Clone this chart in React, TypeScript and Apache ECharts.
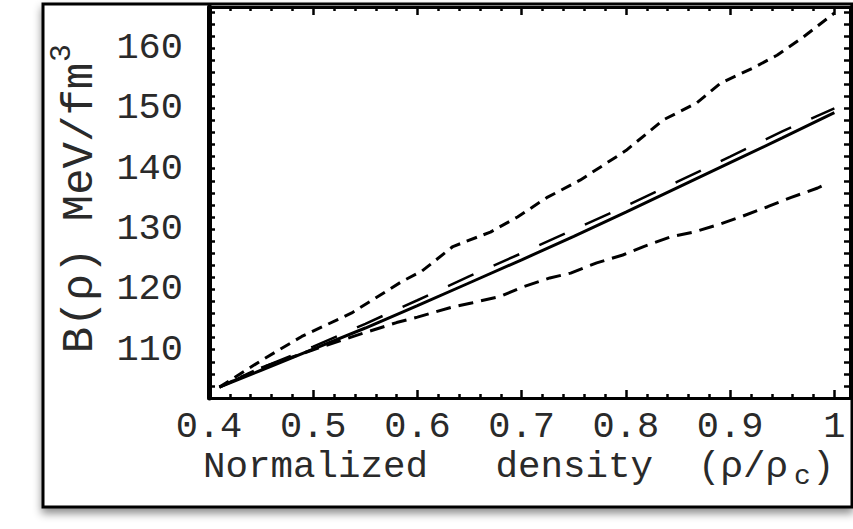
import React, { useEffect, useRef } from "react";
import * as echarts from "echarts";

// Axis ranges / ticks
const xRange = [0.4, 1.015];
const xMajorStep = 0.1;
const yRange = [102, 166.8];
const yTickStep = 2;
const yLabelStep = 10;

// Solid and long-dashed curves share the same density grid
const densityGrid = [0.41, 0.45, 0.5, 0.55, 0.6, 0.65, 0.7, 0.75, 0.8, 0.85, 0.9, 0.95, 1.0];
const solidB = [103.8, 106.6, 110.1, 113.6, 117.3, 121.1, 124.9, 128.8, 132.8, 136.9, 141.0, 145.1, 149.3];
const longDashB = [103.8, 107.0, 110.5, 114.3, 118.2, 122.2, 126.0, 129.9, 133.8, 137.9, 142.0, 146.2, 150.0];

// Upper short-dashed curve
const upperX = [0.41, 0.45, 0.489, 0.537, 0.585, 0.604, 0.634, 0.67, 0.696, 0.724, 0.756, 0.8, 0.836, 0.868, 0.891, 0.922, 0.945, 0.97, 1.0];
const upperB = [103.8, 108.2, 112.2, 116.1, 121.3, 123.0, 127.1, 129.5, 132.0, 135.2, 138.1, 143.0, 148.1, 150.9, 154.2, 156.7, 158.8, 161.8, 165.8];

// Lower dashed curve
const lowerX = [0.41, 0.45, 0.5, 0.54, 0.58, 0.6, 0.634, 0.653, 0.679, 0.701, 0.727, 0.747, 0.772, 0.797, 0.817, 0.843, 0.865, 0.888, 0.91, 0.936, 0.958, 0.984, 0.99];
const lowerB = [103.8, 107.0, 110.0, 112.3, 114.5, 115.4, 117.1, 117.8, 118.8, 120.4, 121.9, 122.7, 124.4, 125.7, 127.1, 128.7, 129.5, 130.7, 132.0, 133.7, 135.2, 136.8, 137.3];

const FONT = '"Liberation Mono", "Courier New", monospace';
const TEXT = "#2a2a2a";

const zip = (xs: number[], ys: number[]) => xs.map((x, i) => [x, ys[i]]);

export default function App() {
  const ref = useRef<HTMLDivElement>(null);

  useEffect(() => {
    if (!ref.current) return;
    const chart = echarts.init(ref.current, null, { renderer: "svg" });

    const xAxis = (position: string, label: boolean) => ({
      type: "value",
      position,
      min: xRange[0],
      max: xRange[1],
      interval: xMajorStep,
      axisLine: { show: true, onZero: false, lineStyle: { color: "#000", width: 3 } },
      axisTick: { show: true, inside: true, length: 8, lineStyle: { color: "#000", width: 2.5 } },
      minorTick: { show: true, splitNumber: 5, length: 4, lineStyle: { color: "#000", width: 2.5 } },
      axisLabel: label
        ? {
            show: true,
            margin: 10,
            color: TEXT,
            fontFamily: FONT,
            fontSize: 37,
            showMaxLabel: true,
            formatter: (v: number) => {
              const k = Math.round(v * 10);
              if (Math.abs(v * 10 - k) > 1e-6) return "";
              return k === 10 ? "1" : (k / 10).toFixed(1);
            },
          }
        : { show: false },
      splitLine: { show: false },
      minorSplitLine: { show: false },
    });

    const yAxis = (position: string, label: boolean, lw: number) => ({
      type: "value",
      position,
      min: yRange[0],
      max: yRange[1],
      interval: yTickStep,
      axisLine: { show: true, onZero: false, lineStyle: { color: "#000", width: lw } },
      axisTick: { show: true, inside: true, length: 6, lineStyle: { color: "#000", width: 2.5 } },
      axisLabel: label
        ? {
            show: true,
            margin: 26,
            color: TEXT,
            fontFamily: FONT,
            fontSize: 37,
            hideOverlap: false,
            formatter: (v: number) => {
              const r = Math.round(v);
              if (Math.abs(v - r) > 1e-6 || r % yLabelStep !== 0) return "";
              return String(r);
            },
          }
        : { show: false },
      splitLine: { show: false },
    });

    const lineSeries = (data: number[][], type: any, width: number) => ({
      type: "line",
      xAxisIndex: 0,
      yAxisIndex: 0,
      data,
      showSymbol: false,
      symbol: "none",
      lineStyle: { color: "#000", width, type },
      silent: true,
    });

    chart.setOption({
      animation: false,
      backgroundColor: "#fff",
      grid: { left: 209, right: 3, top: 7, bottom: 131, outerBoundsMode: "none", containLabel: false },
      xAxis: [xAxis("bottom", true), xAxis("top", false)],
      yAxis: [yAxis("left", true, 5), yAxis("right", false, 3)],
      graphic: [
        {
          type: "rect",
          z: -10,
          silent: true,
          shape: { x: 43, y: 4, width: 809, height: 503 },
          style: {
            fill: "#fff",
            stroke: "#000",
            lineWidth: 3,
            shadowBlur: 8,
            shadowColor: "rgba(0,0,0,0.45)",
            shadowOffsetY: 5,
          },
        },
        {
          type: "text",
          x: 80,
          y: 208,
          rotation: Math.PI / 2,
          silent: true,
          style: {
            text: "B(ρ) MeV/fm",
            fontFamily: FONT,
            fontSize: 44,
            fill: TEXT,
            align: "center",
            verticalAlign: "middle",
          },
        },
        {
          type: "text",
          x: 62,
          y: 53,
          rotation: Math.PI / 2,
          silent: true,
          style: {
            text: "3",
            fontFamily: FONT,
            fontSize: 30,
            fill: TEXT,
            align: "center",
            verticalAlign: "middle",
          },
        },
        {
          type: "text",
          x: 203,
          y: 467,
          silent: true,
          style: {
            text: "Normalized   density  (ρ/ρ",
            fontFamily: FONT,
            fontSize: 37.5,
            fill: TEXT,
            align: "left",
            verticalAlign: "middle",
          },
        },
        {
          type: "text",
          x: 794,
          y: 476,
          silent: true,
          style: {
            text: "c",
            fontFamily: FONT,
            fontSize: 28,
            fill: TEXT,
            align: "left",
            verticalAlign: "middle",
          },
        },
        {
          type: "text",
          x: 812,
          y: 467,
          silent: true,
          style: {
            text: ")",
            fontFamily: FONT,
            fontSize: 37.5,
            fill: TEXT,
            align: "left",
            verticalAlign: "middle",
          },
        },
      ],
      series: [
        lineSeries(zip(densityGrid, solidB), "solid", 3),
        lineSeries(zip(densityGrid, longDashB), [28, 22], 2.5),
        lineSeries(zip(upperX, upperB), [11, 7], 3),
        lineSeries(zip(lowerX, lowerB), [15, 8], 3),
      ],
    });

    return () => chart.dispose();
  }, []);

  return (
    <div
      ref={ref}
      style={{ position: "fixed", left: 0, top: 0, width: 853, height: 529, background: "#fff" }}
    />
  );
}
